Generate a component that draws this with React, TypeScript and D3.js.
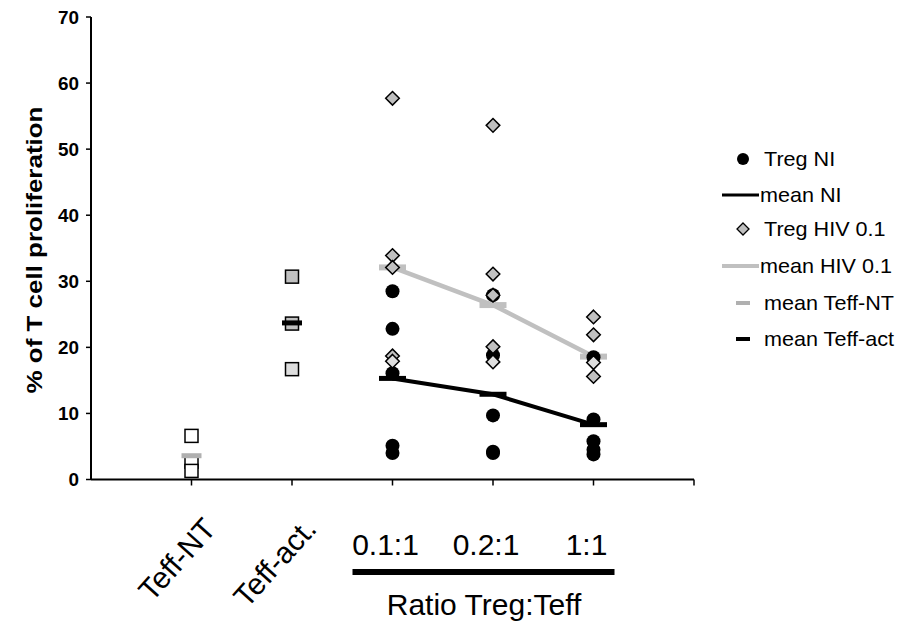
import React from "react";
import * as d3 from "d3";

// categories along the x axis (first two are controls, last three are Treg:Teff ratios)
const categories = ["Teff-NT", "Teff-act.", "0.1:1", "0.2:1", "1:1"];
const ratioLabels = ["0.1:1", "0.2:1", "1:1"];
const yTicks = [0, 10, 20, 30, 40, 50, 60, 70];

// control wells
const teffNT = [6.6, 2.7, 1.3];
const teffAct = [30.7, 23.6];
const teffActLight = [16.7];
const meanTeffNT = 3.6;
const meanTeffAct = 23.7;

// Treg co-cultures, one array per ratio
const tregNI = [
  [28.5, 22.8, 16.1, 5.1, 4.0],
  [27.9, 18.8, 9.7, 4.2, 4.0],
  [18.5, 9.1, 5.8, 4.5, 3.8],
];
const tregHIV = [
  [57.7, 33.9, 32.1, 18.7],
  [53.6, 31.1, 27.9, 20.1],
  [24.6, 21.9, 15.6],
];
const tregHIVLight = [17.9, 17.8, 17.7];
const meanNI = [15.3, 12.9, 8.3];
const meanHIV = [32.1, 26.4, 18.6];

const legendItems = [
  "Treg NI",
  "mean NI",
  "Treg HIV 0.1",
  "mean HIV 0.1",
  "mean Teff-NT",
  "mean Teff-act",
];

const W = 907;
const H = 621;
const FONT = "'Liberation Sans', Arial, Helvetica, sans-serif";
const GRAY = "#c0c0c0";
const LIGHT = "#dedede";

const x = d3.scaleLinear().domain([0, 6]).range([91, 694]);
const y = d3.scaleLinear().domain([0, 70]).range([479.5, 17]);

// wide-set text, like the original export
const Txt = ({ tx, ty, rot = 0, sx = 1, size, bold = false, anchor = "start", children }: any) => (
  <g transform={`translate(${tx},${ty}) rotate(${rot}) scale(${sx},1)`}>
    <text
      x={0}
      y={0}
      fontSize={size}
      fontWeight={bold ? "bold" : "normal"}
      textAnchor={anchor}
      fontFamily={FONT}
      fill="#000"
    >
      {children}
    </text>
  </g>
);

const diamond = (cx: number, cy: number, r: number) =>
  `M${cx},${cy - r}L${cx + r},${cy}L${cx},${cy + r}L${cx - r},${cy}Z`;

export default function App() {
  const ratioIdx = [3, 4, 5];
  const meanLine = d3
    .line<number>()
    .x((_, i) => x(ratioIdx[i]))
    .y((d) => y(d));
  const barHalf = 13.5;

  return (
    <svg
      width={W}
      height={H}
      style={{ position: "absolute", left: 0, top: 0, background: "#fff" }}
    >
      {/* y axis */}
      <line x1={x(0)} x2={x(0)} y1={y(70)} y2={y(0)} stroke="#000" strokeWidth={2} />
      {yTicks.map((t) => (
        <g key={t}>
          <line x1={x(0) - 5} x2={x(0)} y1={y(t)} y2={y(t)} stroke="#000" strokeWidth={1.5} />
          <Txt tx={79} ty={y(t) + 6.5} sx={1.05} size={18} bold anchor="end">
            {t}
          </Txt>
        </g>
      ))}
      <Txt tx={42} ty={250} rot={-90} sx={1.18} size={22} bold anchor="middle">
        % of T cell proliferation
      </Txt>

      {/* x axis */}
      <line x1={x(0)} x2={x(6)} y1={y(0)} y2={y(0)} stroke="#000" strokeWidth={2} />
      {[1, 2, 3, 4, 5, 6].map((t) => (
        <line key={t} x1={x(t)} x2={x(t)} y1={y(0)} y2={y(0) + 6} stroke="#000" strokeWidth={1.5} />
      ))}
      {categories.slice(0, 2).map((c, i) => (
        <Txt key={c} tx={x(i + 1) + 26} ty={530} rot={-48} size={30} anchor="end">
          {c}
        </Txt>
      ))}
      {ratioLabels.map((c, i) => (
        <Txt key={c} tx={x(i + 3) - 7} ty={555} size={30} anchor="middle">
          {c}
        </Txt>
      ))}
      <line x1={x(3) - 40} x2={x(5) + 21} y1={572} y2={572} stroke="#000" strokeWidth={6} />
      <Txt tx={484} ty={615} size={30} anchor="middle">
        Ratio Treg:Teff
      </Txt>

      {/* controls */}
      {teffNT.map((v, i) => (
        <rect key={"nt" + i} x={x(1) - 6.5} y={y(v) - 6.5} width={13} height={13} fill="#fff" stroke="#000" strokeWidth={1.5} />
      ))}
      {teffAct.map((v, i) => (
        <rect key={"ac" + i} x={x(2) - 6.5} y={y(v) - 6.5} width={13} height={13} fill={GRAY} stroke="#000" strokeWidth={1.5} />
      ))}
      {teffActLight.map((v, i) => (
        <rect key={"acl" + i} x={x(2) - 6.5} y={y(v) - 6.5} width={13} height={13} fill={LIGHT} stroke="#000" strokeWidth={1.5} />
      ))}
      <line x1={x(1) - 10} x2={x(1) + 10} y1={y(meanTeffNT)} y2={y(meanTeffNT)} stroke="#b0b0b0" strokeWidth={5} />
      <line x1={x(2) - 10} x2={x(2) + 10} y1={y(meanTeffAct)} y2={y(meanTeffAct)} stroke="#000" strokeWidth={5} />

      {/* mean HIV line under the points */}
      <path d={meanLine(meanHIV) || ""} fill="none" stroke={GRAY} strokeWidth={4.5} />
      {meanHIV.map((v, i) => (
        <line key={"mh" + i} x1={x(i + 3) - barHalf} x2={x(i + 3) + barHalf} y1={y(v)} y2={y(v)} stroke={GRAY} strokeWidth={6} />
      ))}

      {/* Treg NI circles */}
      {tregNI.map((vals, i) =>
        vals.map((v, j) => <circle key={`ni${i}-${j}`} cx={x(i + 3)} cy={y(v)} r={7} fill="#000" />)
      )}

      {/* Treg HIV diamonds */}
      {tregHIV.map((vals, i) =>
        vals.map((v, j) => (
          <path key={`hv${i}-${j}`} d={diamond(x(i + 3), y(v), 6.8)} fill={GRAY} stroke="#000" strokeWidth={1.5} />
        ))
      )}
      {tregHIVLight.map((v, i) => (
        <path key={"hl" + i} d={diamond(x(i + 3), y(v), 6.8)} fill={LIGHT} stroke="#000" strokeWidth={1.5} />
      ))}

      {/* mean NI line on top */}
      <path d={meanLine(meanNI) || ""} fill="none" stroke="#000" strokeWidth={4} />
      {meanNI.map((v, i) => (
        <line key={"mn" + i} x1={x(i + 3) - barHalf} x2={x(i + 3) + barHalf} y1={y(v)} y2={y(v)} stroke="#000" strokeWidth={5} />
      ))}

      {/* legend */}
      <g>
        <circle cx={743} cy={159} r={6} fill="#000" />
        <line x1={722} x2={759} y1={195} y2={195} stroke="#000" strokeWidth={3} />
        <path d={diamond(743, 229, 6)} fill={GRAY} stroke="#000" strokeWidth={1.3} />
        <line x1={722} x2={759} y1={266} y2={266} stroke={GRAY} strokeWidth={4} />
        <line x1={736} x2={750} y1={303} y2={303} stroke="#b0b0b0" strokeWidth={4} />
        <line x1={736} x2={750} y1={339} y2={339} stroke="#000" strokeWidth={4} />
        {legendItems.map((t, i) => (
          <Txt key={t} tx={i % 2 === 1 && i < 4 ? 760 : 764} ty={[159, 195, 229, 266, 303, 339][i] + 7} sx={1.08} size={20}>
            {t}
          </Txt>
        ))}
      </g>
    </svg>
  );
}
